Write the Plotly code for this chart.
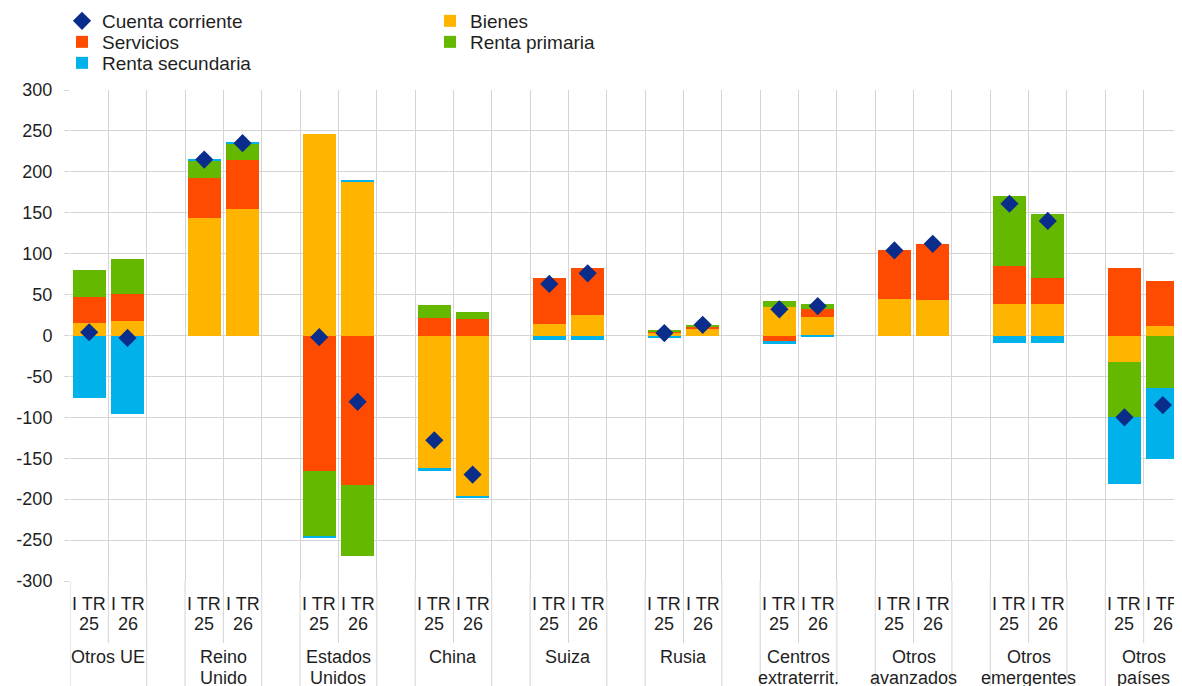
import plotly.graph_objects as go

# ---------------- data ----------------
groups = [["Otros UE"], ["Reino", "Unido"], ["Estados", "Unidos"], ["China"], ["Suiza"], ["Rusia"],
          ["Centros", "extraterrit."], ["Otros", "avanzados"], ["Otros", "emergentes"], ["Otros", "países"]]
period_top = ["I TR", "I TR"]
period_year = ["25", "26"]

bienes     = [15, 18, 143, 154, 246, 188, -163, -196, 14, 25, 4, 9, 35, 23, 45, 43, 39, 39, -32, 12]
servicios  = [32, 33, 50, 60, -165, -183, 22, 20, 56, 58, 1, 2, -7, 10, 59, 69, 46, 31, 82, 54]
primaria   = [33, 42, 20, 21, -81, -87, 15, 9, 0, 0, 1, 2, 7, 5, 0, 0, 85, 79, -67, -64]
secundaria = [-76, -96, 3, 1, -2, 1, -2, -3, -6, -6, -3, 0, -3, -2, 0, 0, -9, -9, -83, -87]
cuenta     = [4, -3, 215, 235, -2, -81, -128, -170, 63, 76, 3, 13, 32, 36, 104, 112, 161, 140, -100, -85]

y_ticks = list(range(-300, 301, 50))
y_ticktext = [str(v) for v in y_ticks]

# ---------------- style ----------------
C_BIENES = "#FFB400"
C_SERV = "#FF4B00"
C_PRIM = "#65B800"
C_SEC = "#00B1EA"
C_CC = "#0A2D8C"
GRID = "#D4D4D4"
TXT = "#1f1f1f"
FONT = "Liberation Sans, Arial, sans-serif"
FS = 18

W, H = 1182, 686
M_L, M_R, M_T, M_B = 62, 8, 82, 113
plot_h = H - M_T - M_B
plot_w = W - M_L - M_R

slot = 3
n_groups = len(groups)
n_per = len(period_year)
x_pos = [g * slot + b for g in range(n_groups) for b in range(n_per)]
n_slots = n_groups * slot - 1
boundaries = [k - 0.5 for k in range(n_slots + 1)]

fig = go.Figure()

# legend placement (row centres in figure pixels)
def leg_y(px):
    return 1 + (M_T - px) / plot_h

def leg_x(px):
    return (px - M_L) / plot_w

col1 = leg_x(54)
col2 = leg_x(422)
row = [leg_y(13), leg_y(34), leg_y(55)]

legend_cfg = {
    "legend":  (col1, row[0]),   # Cuenta corriente
    "legend2": (col2, row[0]),   # Bienes
    "legend3": (col1, row[1]),   # Servicios
    "legend4": (col2, row[1]),   # Renta primaria
    "legend5": (col1, row[2]),   # Renta secundaria
}

series = [
    ("Bienes", bienes, C_BIENES, "legend2"),
    ("Servicios", servicios, C_SERV, "legend3"),
    ("Renta primaria", primaria, C_PRIM, "legend4"),
    ("Renta secundaria", secundaria, C_SEC, "legend5"),
]
for name, vals, col, leg in series:
    fig.add_trace(go.Bar(
        x=x_pos, y=vals, name=name, marker=dict(color=col, line=dict(width=0)),
        width=0.86, legend=leg,
    ))

fig.add_trace(go.Scatter(
    x=x_pos, y=cuenta, name="Cuenta corriente", mode="markers",
    marker=dict(symbol="diamond", size=14, color=C_CC),
    legend="legend",
))

# separator lines in the category-label area
shapes = []
for g in range(n_groups):
    left = g * slot - 0.5
    mid = g * slot + 0.5
    right = g * slot + 1.5
    for xb in (left, right):
        shapes.append(dict(type="line", xref="x", yref="paper", x0=xb, x1=xb,
                           y0=0, y1=-M_B / plot_h, line=dict(color=GRID, width=1)))
    shapes.append(dict(type="line", xref="x", yref="paper", x0=mid, x1=mid,
                       y0=0, y1=-62 / plot_h, line=dict(color=GRID, width=1)))

annotations = []
tfont = dict(family=FONT, size=FS, color=TXT)
for i, xp in enumerate(x_pos):
    b = i % n_per
    annotations.append(dict(x=xp, y=0, xref="x", yref="paper", yanchor="middle", xanchor="center",
                            yshift=-23, text=period_top[b], showarrow=False, font=tfont))
    annotations.append(dict(x=xp, y=0, xref="x", yref="paper", yanchor="middle", xanchor="center",
                            yshift=-43, text=period_year[b], showarrow=False, font=tfont))
for g, lines in enumerate(groups):
    for j, line in enumerate(lines):
        annotations.append(dict(
            x=g * slot + 0.5, y=0, xref="x", yref="paper", yanchor="middle", xanchor="center",
            yshift=-76 - 21 * j, text=line, showarrow=False, font=tfont,
        ))

layout_legends = {}
for key, (lx, ly) in legend_cfg.items():
    layout_legends[key] = dict(
        x=lx, y=ly, xanchor="left", yanchor="middle", orientation="v",
        font=dict(size=19, family=FONT, color=TXT), bgcolor="rgba(0,0,0,0)",
        borderwidth=0, tracegroupgap=0,
    )

fig.update_layout(
    width=W, height=H,
    margin=dict(l=M_L, r=M_R, t=M_T, b=M_B, autoexpand=False),
    paper_bgcolor="white", plot_bgcolor="white",
    barmode="relative", bargap=0,
    font=dict(family=FONT, size=FS, color=TXT),
    shapes=shapes, annotations=annotations,
    showlegend=True,
    xaxis=dict(
        range=[-0.5, n_slots - 0.5], tickmode="array", tickvals=x_pos, ticktext=[""] * len(x_pos),
        showgrid=False, zeroline=False, showline=False, ticks="",
        minor=dict(tickmode="array", tickvals=boundaries, showgrid=True,
                   gridcolor=GRID, gridwidth=1, ticks=""),
        fixedrange=True,
    ),
    yaxis=dict(
        range=[-300, 300], tickmode="array", tickvals=y_ticks, ticktext=y_ticktext,
        showgrid=True, gridcolor=GRID, gridwidth=1,
        zeroline=True, zerolinecolor=GRID, zerolinewidth=1,
        showline=False, ticks="outside", ticklen=5, tickcolor=GRID,
        ticklabelstandoff=8,
        tickfont=dict(size=FS, family=FONT, color=TXT),
    ),
    **layout_legends,
)

fig.write_html("out.html")
